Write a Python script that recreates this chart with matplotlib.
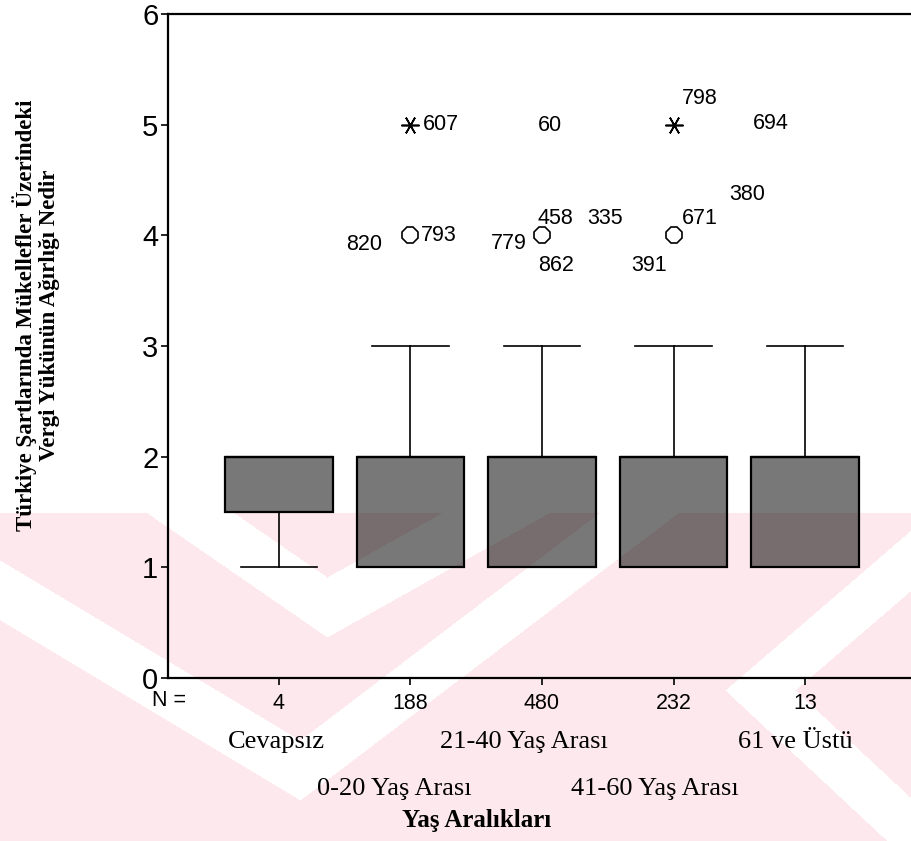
from __future__ import annotations

import matplotlib

matplotlib.use("Agg")
import matplotlib.pyplot as plt
import numpy as np


FIG_W, FIG_H = 911, 841
DPI = 100

# --- data ---
GROUP_LABELS = ["Cevapsız", "0-20 Yaş Arası", "21-40 Yaş Arası", "41-60 Yaş Arası", "61 ve Üstü"]
N_COUNTS = [4, 188, 480, 232, 13]
Q1 = [1.5, 1, 1, 1, 1]
MEDIAN = [2, 2, 2, 2, 2]
Q3 = [2, 2, 2, 2, 2]
WHISKER_LOW = [1, 1, 1, 1, 1]
WHISKER_HIGH = [2, 3, 3, 3, 3]

OUTLIER_GROUP = [2, 3, 4]
OUTLIER_VALUE = [4, 4, 4]
EXTREME_GROUP = [2, 4]
EXTREME_VALUE = [5, 5]

CASE_IDS = ["607", "793", "820", "60", "779", "458", "862", "335", "798", "694", "671", "391", "380"]
CASE_GROUP = [2, 2, 2, 3, 3, 3, 3, 3, 4, 4, 4, 4, 4]
CASE_VALUE = [5, 4, 4, 5, 4, 4, 4, 4, 5, 5, 4, 4, 4]

Y_TICKS = [0, 1, 2, 3, 4, 5, 6]

# --- layout only (pixel offsets of the case labels, SPSS style) ---
CASE_DX = [12, 10, -28, -4, -15, -4, -4, 45, 8, 79, 8, -7, 56]
CASE_DY = [0, 0, 9, 1, 8, -17, 30, -17, -26, -1, -17, 30, -41]
CASE_HA = ["left", "left", "right", "left", "right", "left", "left", "left",
           "left", "left", "left", "right", "left"]
LABEL_DX = [-0.02, -0.12, -0.14, -0.14, -0.07]
LABEL_ROW = [0, 1, 0, 1, 0]

BOX_FILL = (0.0, 0.0, 0.0, 0.53)
SANS = ["Liberation Sans", "DejaVu Sans"]
SERIF = ["Liberation Serif", "DejaVu Serif"]


def px_x(x: float) -> float:
    return x / FIG_W


def px_y(y: float) -> float:
    return 1.0 - y / FIG_H


def watermark_layer() -> np.ndarray:
    # pale pink chevrons of the scanned thesis watermark, drawn behind the plot
    yy, xx = np.mgrid[0:FIG_H, 0:FIG_W].astype(float)
    pink = yy >= 513

    def chevron(vx, vy, sl, sr, t):
        slope = np.where(xx < vx, sl, sr)
        line = vy - slope * np.abs(xx - vx)
        return np.abs(yy - line) < t / 2

    def side_chevron(vx, vy, su, sd, w):
        slope = np.where(yy < vy, su, sd)
        line = vx + np.abs(yy - vy) / slope
        return np.abs(xx - line) < w / 2

    white = chevron(327, 607, 0.69, 0.56, 60)
    white |= chevron(300, 770, 0.60, 0.76, 60)
    white |= side_chevron(760, 690, 0.86, 0.93, 70)
    mask = pink & ~white

    layer = np.ones((FIG_H, FIG_W, 3))
    layer[mask] = np.array([253, 233, 237]) / 255
    return layer


def main() -> None:
    fig = plt.figure(figsize=(FIG_W / DPI, FIG_H / DPI), dpi=DPI)
    fig.figimage(watermark_layer(), xo=0, yo=0, origin="upper", zorder=-5)
    ax = fig.add_axes([px_x(168), px_y(678), px_x(911 - 168), 664 / FIG_H])
    ax.set_facecolor("none")

    positions = list(range(1, len(GROUP_LABELS) + 1))
    stats = [
        dict(q1=a, med=m, q3=b, whislo=lo, whishi=hi, fliers=[])
        for a, m, b, lo, hi in zip(Q1, MEDIAN, Q3, WHISKER_LOW, WHISKER_HIGH)
    ]
    ax.bxp(
        stats,
        positions=positions,
        widths=0.82,
        capwidths=0.585,
        patch_artist=True,
        showfliers=False,
        boxprops=dict(facecolor=BOX_FILL, edgecolor="black", linewidth=1.6),
        whiskerprops=dict(color="black", linewidth=1.2),
        capprops=dict(color="black", linewidth=1.2),
        medianprops=dict(color="black", linewidth=1.6),
    )

    ax.plot(OUTLIER_GROUP, OUTLIER_VALUE, ls="none", marker="8", ms=12,
            mfc="white", mec="black", mew=1.2, zorder=4)
    ax.plot(EXTREME_GROUP, EXTREME_VALUE, ls="none", marker=(6, 2, 90), ms=13,
            mec="black", mew=1.2, zorder=4)

    for cid, g, v, dx, dy, ha in zip(CASE_IDS, CASE_GROUP, CASE_VALUE, CASE_DX, CASE_DY, CASE_HA):
        ax.annotate(cid, xy=(g, v), xytext=(dx, -dy), textcoords="offset pixels",
                    ha=ha, va="center", fontsize=15.5, family=SANS)

    ax.set_xlim(0.156, 5.806)
    ax.set_ylim(0, 6)
    ax.set_yticks(Y_TICKS)
    ax.set_yticklabels([str(t) for t in Y_TICKS], fontsize=21, family=SANS)
    ax.set_xticks(positions)
    ax.set_xticklabels([str(n) for n in N_COUNTS], fontsize=15.5, family=SANS)
    ax.tick_params(axis="y", direction="out", length=5, width=1.2, pad=2)
    ax.tick_params(axis="x", direction="out", length=5, width=1.2, pad=6)

    for side in ("left", "bottom", "top"):
        ax.spines[side].set_linewidth(1.6)
    ax.spines["right"].set_visible(False)

    fig.text(px_x(186), px_y(701), "N =", ha="right", va="center", fontsize=15.5, family=SANS)

    row_y = [-0.0964, -0.167]
    for pos, name, dx, row in zip(positions, GROUP_LABELS, LABEL_DX, LABEL_ROW):
        ax.text(pos + dx, row_y[row], name, transform=ax.get_xaxis_transform(),
                ha="center", va="center", fontsize=19, family=SERIF, clip_on=False)

    fig.text(px_x(477), px_y(820), "Yaş Aralıkları", ha="center", va="center",
             fontsize=18, fontweight="bold", family=SERIF)
    fig.text(px_x(36), px_y(315),
             "Türkiye Şartlarında Mükellefler Üzerindeki\nVergi Yükünün Ağırlığı Nedir",
             rotation=90, ha="center", va="center", multialignment="center",
             fontsize=16.5, fontweight="bold", family=SERIF, linespacing=1.15)

    fig.savefig("out.png", dpi=DPI)
    plt.close(fig)


if __name__ == "__main__":
    main()
